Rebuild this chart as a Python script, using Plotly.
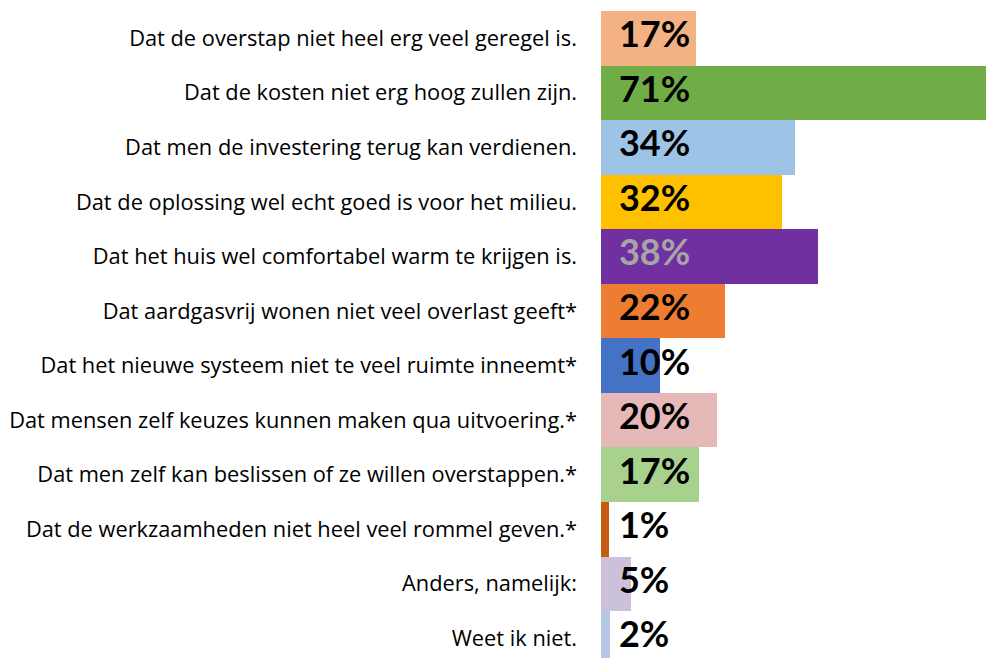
import plotly.graph_objects as go

categories = [
    "Dat de overstap niet heel erg veel geregel is.",
    "Dat de kosten niet erg hoog zullen zijn.",
    "Dat men de investering terug kan verdienen.",
    "Dat de oplossing wel echt goed is voor het milieu.",
    "Dat het huis wel comfortabel warm te krijgen is.",
    "Dat aardgasvrij wonen niet veel overlast geeft*",
    "Dat het nieuwe systeem niet te veel ruimte inneemt*",
    "Dat mensen zelf keuzes kunnen maken qua uitvoering.*",
    "Dat men zelf kan beslissen of ze willen overstappen.*",
    "Dat de werkzaamheden niet heel veel rommel geven.*",
    "Anders, namelijk:",
    "Weet ik niet.",
]
values = [16.6, 71.0, 34.0, 31.7, 38.0, 21.7, 10.3, 20.3, 17.2, 1.4, 5.3, 1.6]
value_labels = ["17%", "71%", "34%", "32%", "38%", "22%", "10%", "20%", "17%", "1%", "5%", "2%"]
bar_colors = ["#F4B183", "#70AD47", "#9DC3E6", "#FFC000", "#7030A0", "#ED7D31",
              "#4472C4", "#E6B9B8", "#A9D18E", "#C55A11", "#CCC1DA", "#B4C7E7"]
label_colors = ["#000000"] * 4 + ["#A6A6A6"] + ["#000000"] * 7

pos = list(range(len(categories)))

fig = go.Figure()
fig.add_trace(go.Bar(
    x=values, y=pos, orientation="h",
    marker=dict(color=bar_colors, line=dict(width=0)),
    width=1, hoverinfo="skip",
))
fig.add_trace(go.Scatter(
    x=[3.15] * len(pos), y=pos, mode="text",
    text=value_labels, textposition="middle right",
    textfont=dict(family="Lato", size=36, color=label_colors, weight="bold"),
    cliponaxis=False, hoverinfo="skip",
))

fig.update_layout(
    width=978, height=650,
    margin=dict(l=593, r=0, t=3, b=0, autoexpand=False),
    paper_bgcolor="white", plot_bgcolor="white",
    showlegend=False, bargap=0,
    xaxis=dict(range=[0, 67.4], visible=False, fixedrange=True, automargin=False),
    yaxis=dict(
        range=[11.36, -0.5], tickvals=pos, ticktext=categories,
        showgrid=False, zeroline=False, showline=False, ticks="",
        ticklabelstandoff=23, ticklabeloverflow="allow", automargin=False,
        tickfont=dict(family="Open Sans", size=21.8, color="#000000"),
        fixedrange=True,
    ),
)

fig.write_html("out.html")
